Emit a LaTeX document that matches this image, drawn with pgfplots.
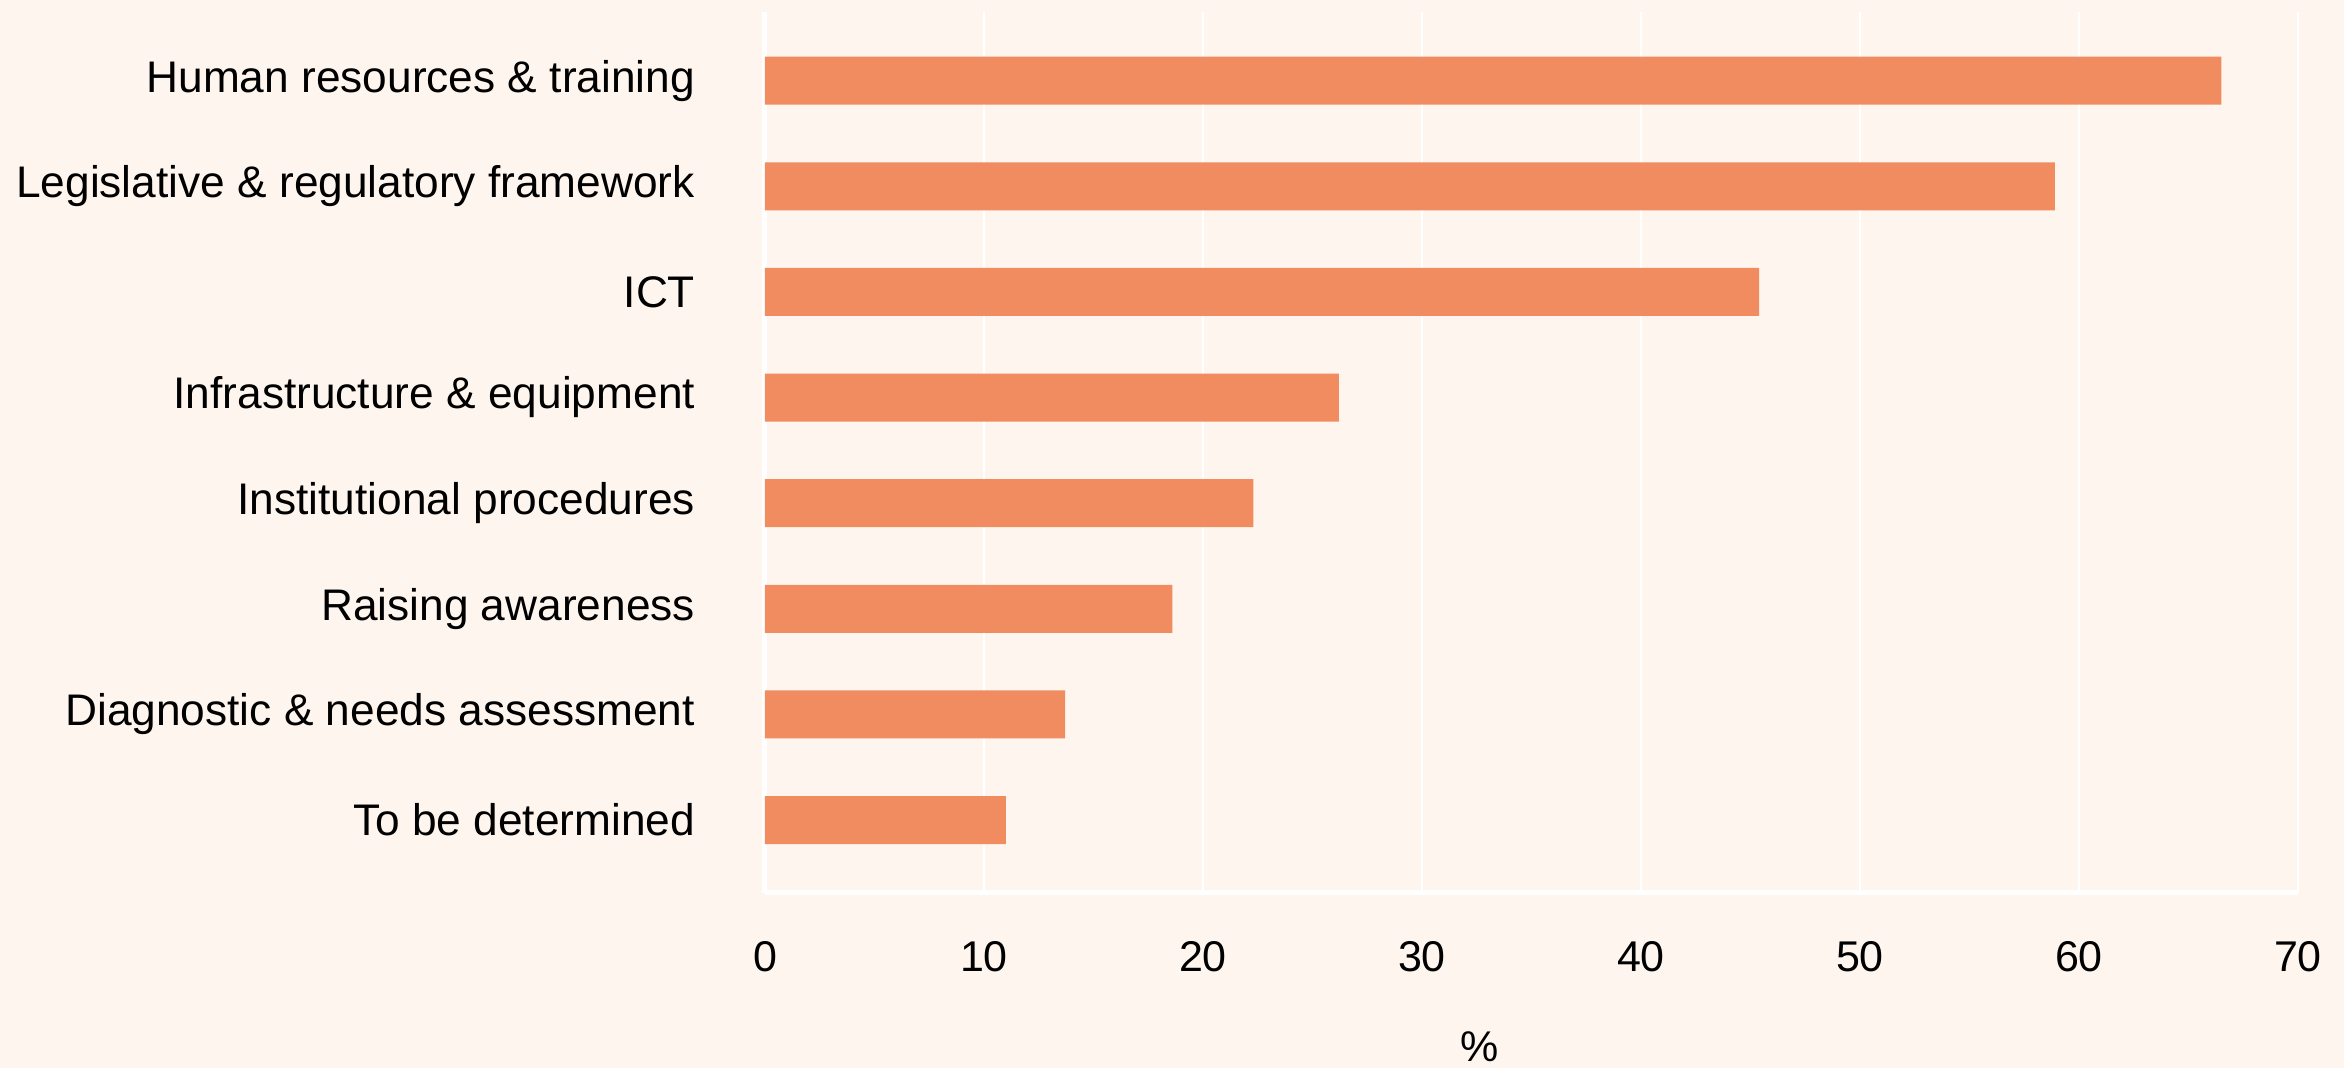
\documentclass[border=0pt]{standalone}
\usepackage{pgfplots}
\pgfplotsset{compat=1.18}
\usepackage{fontspec}
\setmainfont{Liberation Sans}
\definecolor{bg}{RGB}{254,245,238}
\definecolor{barc}{RGB}{241,140,97}
\begin{document}
\begin{tikzpicture}
\fill[bg] (-153pt,-35pt) rectangle ++(468.8pt,213.6pt);
\begin{axis}[
  xbar,
  scale only axis,
  width=306.6pt, height=176.2pt,
  at={(0,0)}, anchor=south west,
  xmin=0, xmax=70, ymin=-0.69, ymax=7.65,
  xtick={0,10,...,70},
  ytick={0,...,7},
  yticklabels={To be determined, Diagnostic \& needs assessment, Raising awareness, Institutional procedures, Infrastructure \& equipment, ICT, Legislative \& regulatory framework, Human resources \& training},
  axis x line*=bottom, axis y line*=left,
  axis line style={white, line width=1pt, -},
  xmajorgrids, grid style={white, line width=0.5pt},
  major tick length=0pt,
  tick style={draw=none},
  bar width=9.6pt,
  /pgf/number format/assume math mode=true,
  yticklabel style={font=\fontsize{8.85}{10}\selectfont, anchor=east, inner sep=0pt, xshift=-13.8pt},
  xticklabel style={font=\fontsize{8.6}{10}\selectfont, anchor=base, inner sep=0pt, yshift=-15.8pt},
  xlabel={\%},
  xlabel style={font=\fontsize{8.6}{10}\selectfont, at={(axis description cs:0.466,0)}, anchor=base, inner sep=0pt, yshift=-33.8pt},
]
\addplot[fill=barc, draw=none] coordinates {
  (11.0,0) (13.7,1) (18.6,2) (22.3,3) (26.2,4) (45.4,5) (58.9,6) (66.5,7)
};
\end{axis}
\pgfresetboundingbox
\path (-153pt,-35pt) rectangle ++(468.8pt,213.6pt);
\end{tikzpicture}
\end{document}
